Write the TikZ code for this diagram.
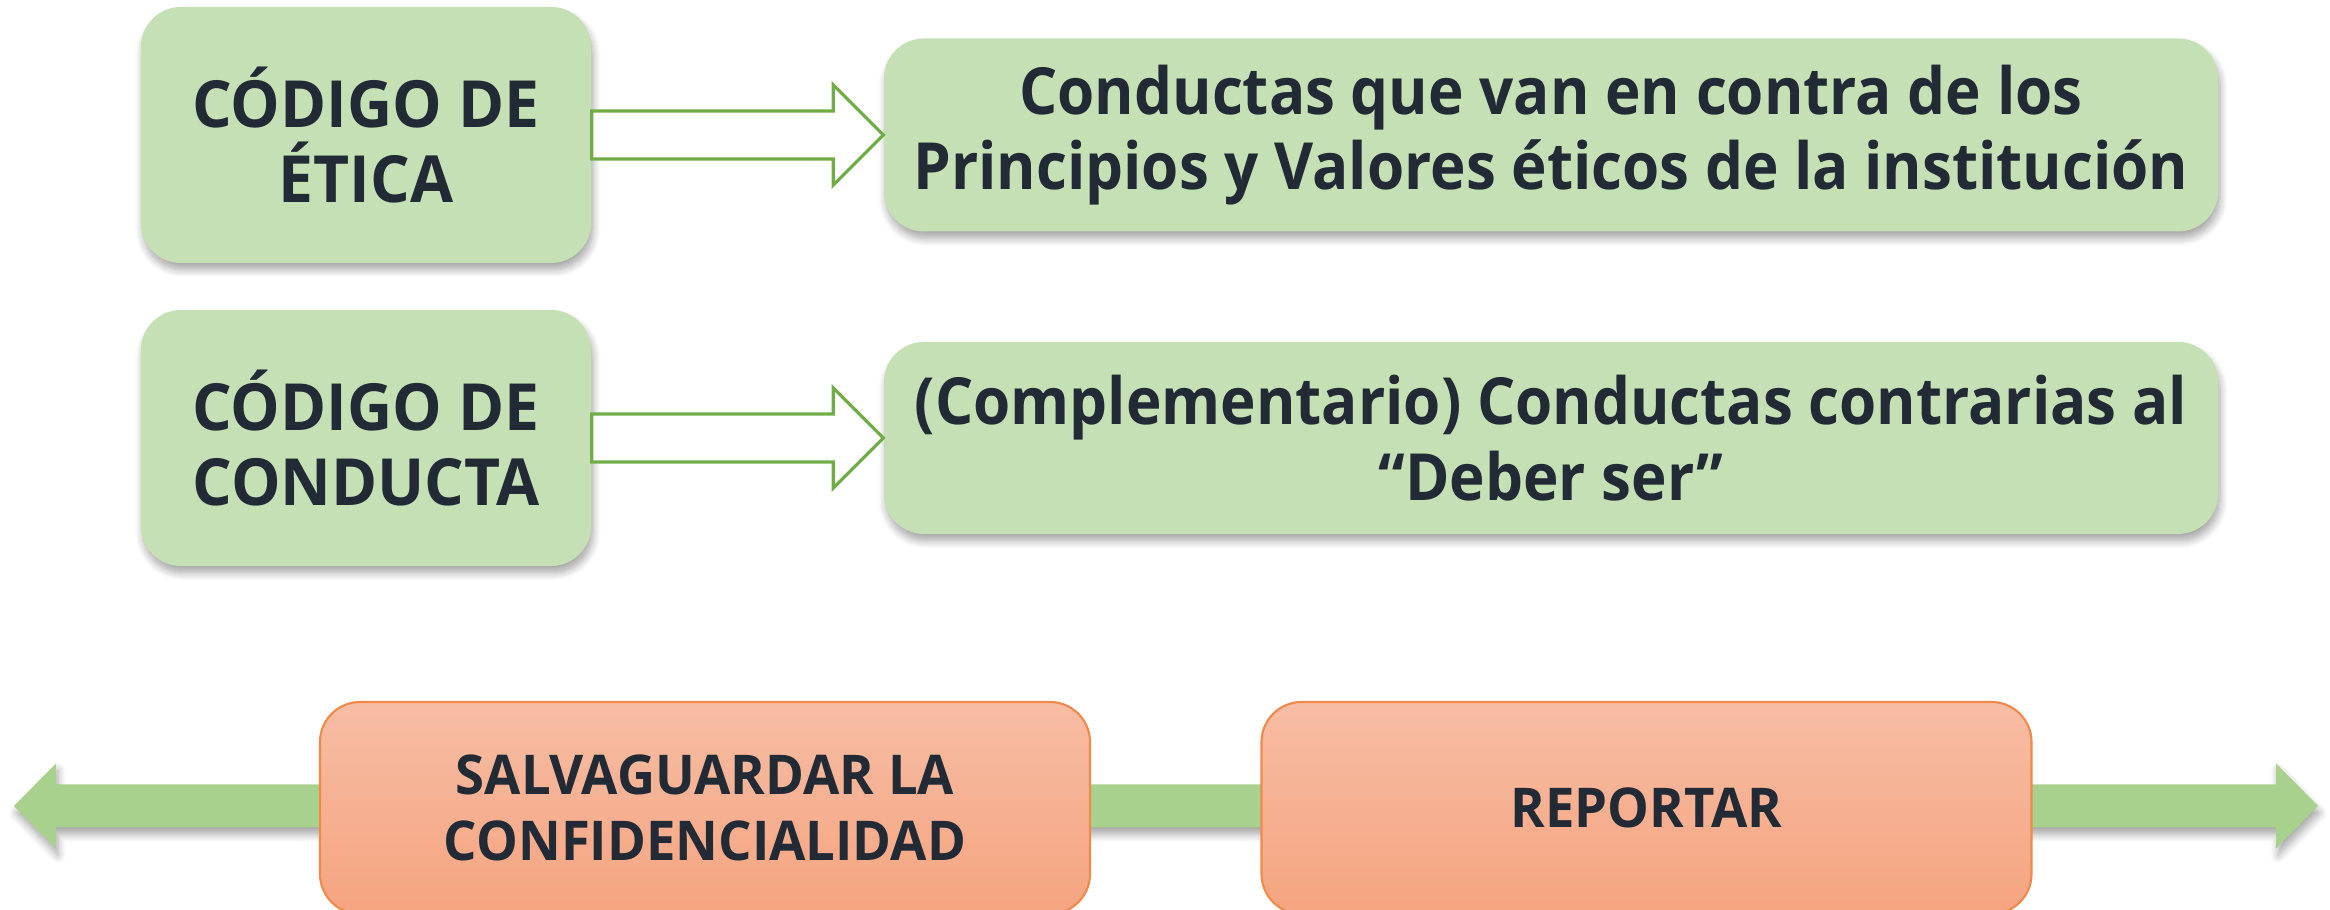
\documentclass[tikz,border=0pt]{standalone}
\usepackage{fontspec}
\setmainfont{Open Sans}[FakeStretch=0.925]
\newfontfamily\capsfont{Open Sans}[FakeStretch=0.96]
\usepackage{tikz}
\usetikzlibrary{calc}
\usetikzlibrary{shadows.blur}
\definecolor{boxgreen}{HTML}{C5E0B4}
\definecolor{linegreen}{HTML}{70AD47}
\definecolor{bandgreen}{HTML}{A9D18E}
\definecolor{txtdark}{HTML}{222A35}
\definecolor{ortop}{HTML}{F7BDA4}
\definecolor{orbot}{HTML}{F5A47F}
\definecolor{orline}{HTML}{F08A4B}
\tikzset{
	softshadow/.style={blur shadow={shadow xshift=0.02cm,shadow yshift=-0.07cm,shadow blur steps=8,shadow opacity=35}},
	greenbox/.style={rectangle,rounded corners=0.4cm,fill=boxgreen,text=txtdark,align=center,inner sep=0pt,softshadow,font=\bfseries\fontsize{18.5}{21.5}\selectfont},
	codebox/.style={greenbox,minimum width=4.5cm,minimum height=2.56cm,font=\capsfont\bfseries\fontsize{18.5}{21.5}\selectfont},
	orbox/.style={rectangle,rounded corners=0.4cm,top color=ortop,bottom color=orbot,draw=orline,line width=0.6pt,text=txtdark,align=center,minimum width=7.7cm,minimum height=2.12cm,font=\capsfont\bfseries\fontsize{15.6}{19}\selectfont}
}
\newcommand\blockarrow[2]{
	\draw[linegreen,line width=0.9pt,fill=white] ($(#1.east)+(0,0.24)$) -- ($(#2.west)+(-0.5,0.24)$) -- ($(#2.west)+(-0.5,0.5)$) -- (#2.west) -- ($(#2.west)+(-0.5,-0.5)$) -- ($(#2.west)+(-0.5,-0.24)$) -- ($(#1.east)+(0,-0.24)$) -- cycle;
}

\begin{document}
\begin{tikzpicture}
	\useasboundingbox (0,0) rectangle (23.3,9.1);
	\node[codebox] (etica) at (3.66,7.75) {CÓDIGO DE\\ÉTICA};
	\node[codebox] (conducta) at (3.66,4.72) {CÓDIGO DE\\CONDUCTA};
	\node[greenbox,minimum width=13.34cm,minimum height=1.93cm] (principios) at (15.51,7.75) {Conductas que van en contra de los\\Principios y Valores éticos de la institución};
	\node[greenbox,minimum width=13.34cm,minimum height=1.92cm] (deber) at (15.51,4.72) {(Complementario) Conductas contrarias al\\“Deber ser”};
	\blockarrow{etica}{principios}
	\blockarrow{conducta}{deber}
	\coordinate (leftend) at (0.14,1.04);
	\coordinate (rightend) at (23.18,1.04);
	\fill[bandgreen,softshadow] (leftend) -- ++(0.42,0.425) -- ++(0,-0.21) -- ($(rightend)+(-0.42,0.215)$) -- ++(0,0.21) -- (rightend) -- ++(-0.42,-0.425) -- ++(0,0.21) -- ($(leftend)+(0.42,-0.215)$) -- ++(0,-0.21) -- cycle;
	\node[orbox] (salva) at (7.05,1.02) {SALVAGUARDAR LA\\CONFIDENCIALIDAD};
	\node[orbox] (reportar) at (16.465,1.02) {REPORTAR};
\end{tikzpicture}
\end{document}
